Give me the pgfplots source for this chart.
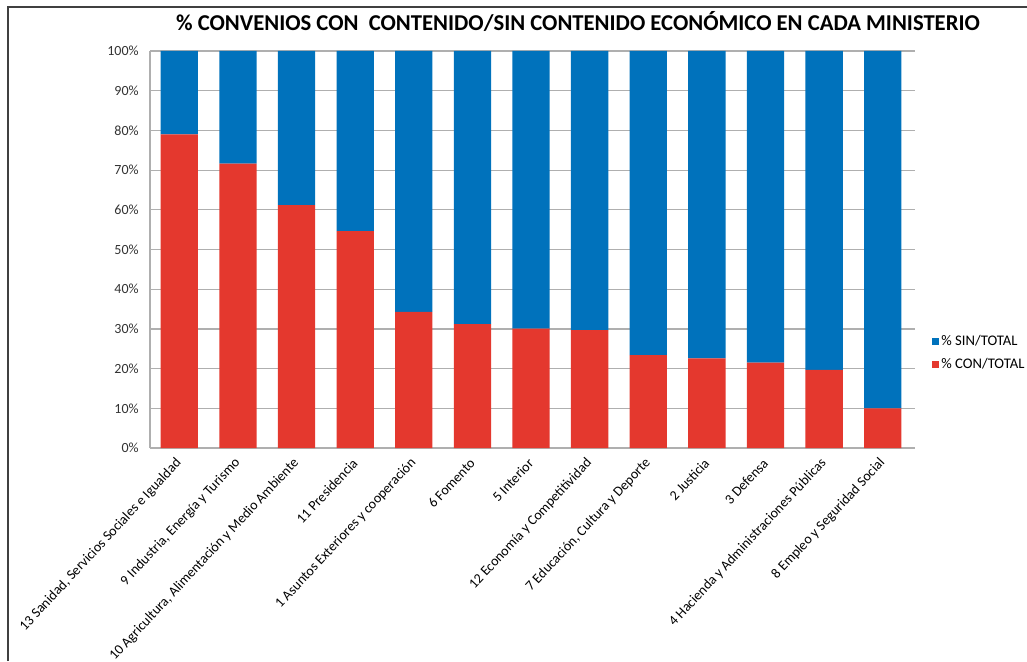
\documentclass[border=0pt]{standalone}
\usepackage{fontspec}
\setmainfont{Carlito}
\usepackage{pgfplots}
\pgfplotsset{compat=1.18}
\definecolor{conred}{RGB}{228,56,46}
\definecolor{sinblue}{RGB}{0,114,188}
\definecolor{gridgray}{RGB}{175,175,175}
\begin{document}
\begin{tikzpicture}
  % frame of the picture (1px = 0.75pt)
  \useasboundingbox (0,0) rectangle (770.25pt,495.75pt);
  \draw[line width=1.2pt, black!75] (6pt,0) -- (6pt,490.5pt) -- (770.25pt,490.5pt);
  \node[font=\bfseries\fontsize{17}{20}\selectfont] at (433.5pt,479.5pt)
    {\% CONVENIOS CON\ \ CONTENIDO/SIN CONTENIDO ECONÓMICO EN CADA MINISTERIO};
  \begin{axis}[
      at={(112.5pt,159.75pt)}, anchor=south west,
      scale only axis,
      width=573.75pt, height=297.75pt,
      ybar stacked,
      bar width=28pt,
      xmin=-0.5, xmax=12.55,
      ymin=0, ymax=100,
      ytick={0,10,...,100},
      yticklabel={\pgfmathprintnumber{\tick}\%},
      /pgf/number format/assume math mode=true,
      xtick=data,
      xticklabels={
        {13  Sanidad, Servicios Sociales e Igualdad},
        {9 Industria, Energía y Turismo},
        {10 Agricultura, Alimentación y Medio Ambiente},
        {11 Presidencia},
        {1 Asuntos Exteriores y cooperación},
        {6 Fomento},
        {5 Interior},
        {12 Economía y Competitividad},
        {7 Educación, Cultura y Deporte},
        {2 Justicia},
        {3 Defensa},
        {4 Hacienda y Administraciones Públicas},
        {8 Empleo y Seguridad Social}},
      xticklabel style={xshift=0pt, yshift=-9.5pt, rotate=47, anchor=east,
        font=\fontsize{10.5}{12}\selectfont, inner sep=0pt},
      yticklabel style={font=\fontsize{10.5}{12}\selectfont, text=black!80, xshift=-5pt},
      major tick length=0pt,
      ymajorgrids=true,
      grid style={gridgray, line width=0.9pt},
      axis line style={gridgray, line width=0.9pt},
      axis x line*=bottom,
      axis y line*=left,
      legend style={draw=none, fill=none, at={(1.02,0.24)}, anchor=west,
        font=\fontsize{11}{13}\selectfont, row sep=4pt, inner sep=1pt,
        cells={anchor=west}},
      legend image code/.code={\fill[#1] (0cm,-0.09cm) rectangle (0.18cm,0.09cm);},
      reverse legend,
    ]
    \addplot+[draw=none, fill=conred] coordinates {
      (0,79.0) (1,71.6) (2,61.2) (3,54.6) (4,34.3) (5,31.2) (6,30.1)
      (7,29.7) (8,23.4) (9,22.6) (10,21.5) (11,19.7) (12,10.0)};
    \addplot+[draw=none, fill=sinblue] coordinates {
      (0,21.0) (1,28.4) (2,38.8) (3,45.4) (4,65.7) (5,68.8) (6,69.9)
      (7,70.3) (8,76.6) (9,77.4) (10,78.5) (11,80.3) (12,90.0)};
    \legend{\% CON/TOTAL, \% SIN/TOTAL}
  \end{axis}
\end{tikzpicture}
\end{document}
